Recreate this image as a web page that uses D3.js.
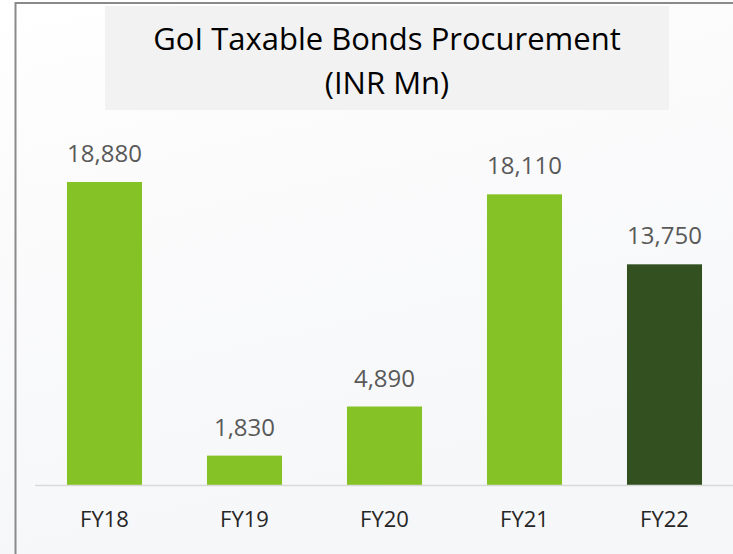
<!DOCTYPE html>
<html>
<head>
<meta charset="utf-8">
<script src="https://cdn.jsdelivr.net/npm/d3@7"></script>
<style>
    body { margin: 0; padding: 0; background: #ffffff; }
    svg { display: block; }
    text { font-family: "Open Sans", "Liberation Sans", sans-serif; }
</style>
</head>
<body>
<div id="chart"></div>
<script>
// Chart data
const categories = ["FY18", "FY19", "FY20", "FY21", "FY22"];
const procurement = [18880, 1830, 4890, 18110, 13750];
const titleLines = ["GoI Taxable Bonds Procurement", "(INR Mn)"];
const highlightYear = "FY22";

const width = 733, height = 554;
const margin = {left: 34.5, right: -1.5, baseline: 485};

let svg = d3.select("#chart").append("svg")
    .attr("width", width)
    .attr("height", height);

// Soft background
let defs = svg.append("defs");
let grad = defs.append("linearGradient")
    .attr("id", "bg")
    .attr("x1", "0").attr("y1", "0")
    .attr("x2", "0.3").attr("y2", "1");
grad.append("stop").attr("offset", "0%").attr("stop-color", "#ffffff");
grad.append("stop").attr("offset", "35%").attr("stop-color", "#fbfbfc");
grad.append("stop").attr("offset", "100%").attr("stop-color", "#f6f7f9");

svg.append("rect")
    .attr("width", width)
    .attr("height", height)
    .attr("fill", "url(#bg)");

// Frame lines (top + left)
svg.append("line")
    .attr("x1", 15).attr("x2", width)
    .attr("y1", 3).attr("y2", 3)
    .attr("stroke", "#8a8a8a")
    .attr("stroke-width", 2);
svg.append("line")
    .attr("x1", 15.5).attr("x2", 15.5)
    .attr("y1", 2).attr("y2", height)
    .attr("stroke", "#8a8a8a")
    .attr("stroke-width", 2);

// Title box
svg.append("rect")
    .attr("x", 105).attr("y", 6)
    .attr("width", 564).attr("height", 104)
    .attr("fill", "#f2f2f2");

svg.selectAll(".title")
    .data(titleLines)
    .enter()
    .append("text")
    .attr("class", "title")
    .attr("x", 387)
    .attr("y", (d, i) => 50 + i * 44)
    .attr("text-anchor", "middle")
    .style("font-size", "31px")
    .style("fill", "#000000")
    .text(d => d);

// Scales
let x = d3.scaleBand()
    .domain(categories)
    .range([margin.left, width - margin.right])
    .paddingInner(0.464)
    .paddingOuter(0.232);

let y = d3.scaleLinear()
    .domain([0, 20000])
    .range([margin.baseline, margin.baseline - 321]);

let rows = categories.map((c, i) => ({year: c, value: procurement[i]}));

// Bars
svg.selectAll(".bar")
    .data(rows)
    .enter()
    .append("rect")
    .attr("class", "bar")
    .attr("x", d => x(d.year))
    .attr("y", d => y(d.value))
    .attr("width", x.bandwidth())
    .attr("height", d => y(0) - y(d.value))
    .attr("fill", d => d.year === highlightYear ? "#325020" : "#84c225");

// Value labels
svg.selectAll(".val")
    .data(rows)
    .enter()
    .append("text")
    .attr("class", "val")
    .attr("x", d => x(d.year) + x.bandwidth() / 2)
    .attr("y", d => y(d.value) - 20)
    .attr("text-anchor", "middle")
    .style("font-size", "24px")
    .style("fill", "#595959")
    .text(d => d3.format(",")(d.value));

// X axis
let xAxis = d3.axisBottom(x).tickSize(0).tickPadding(26);
let gx = svg.append("g")
    .attr("transform", `translate(0,${margin.baseline})`)
    .call(xAxis);
gx.select(".domain")
    .attr("stroke", "#d9d9d9")
    .attr("stroke-width", 1.5);
gx.selectAll("text")
    .style("font-size", "22px")
    .style("font-family", "'Open Sans', sans-serif")
    .style("fill", "#262626");
</script>
</body>
</html>
